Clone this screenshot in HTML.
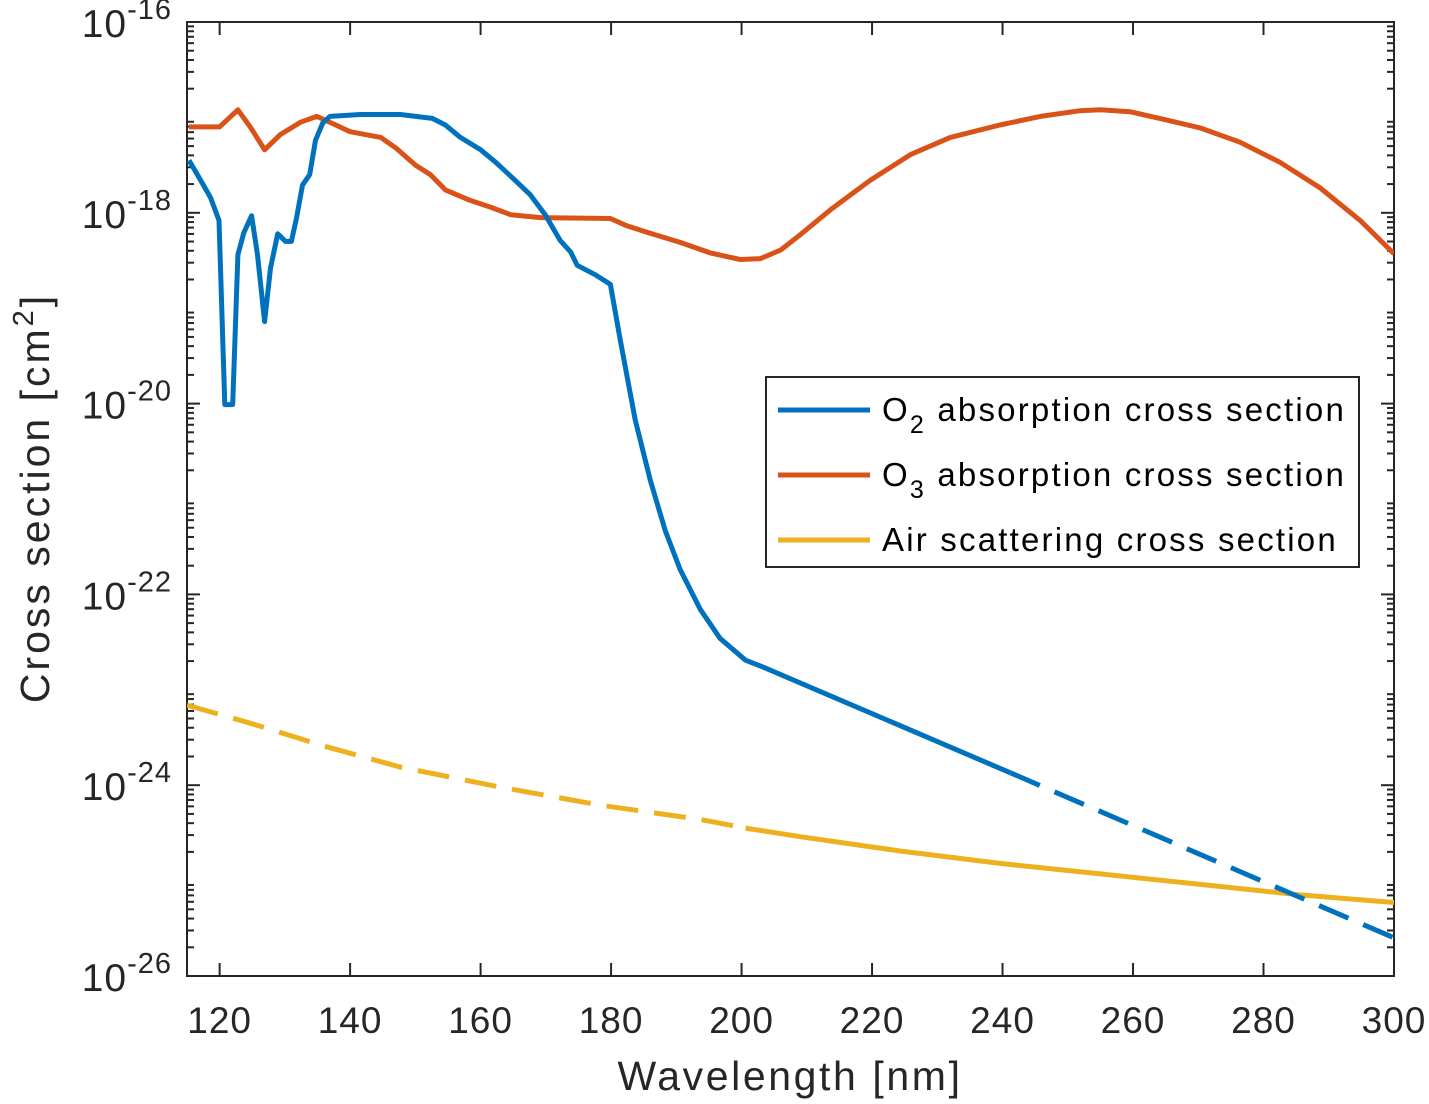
<!DOCTYPE html>
<html><head><meta charset="utf-8"><style>
body{margin:0;background:#fff}
svg{display:block;font-family:"Liberation Sans",Arial,sans-serif}
</style></head><body>
<svg id="chart" width="1429" height="1104"></svg>
<script>
const xTicks=[120,140,160,180,200,220,240,260,280,300];
const yTickExps=[-26,-24,-22,-20,-18,-16];
const o2Wl=[115.3,117.1,118.6,119.9,120.8,122,122.8,123.7,124.9,125.8,126.9,127.8,128.9,130.1,131,131.8,132.7,133.8,134.7,135.8,136.9,141.6,147.7,152.6,154.6,156.9,160,162.3,165.3,167.6,169.9,172.2,173.8,174.8,177.6,179.9,181.4,183.7,186,188.3,190.6,193.7,196.7,200.6,203.6,241.2];
const o2Log=[-17.45,-17.66,-17.84,-18.08,-20.01,-20.01,-18.44,-18.21,-18.03,-18.44,-19.14,-18.58,-18.22,-18.30,-18.30,-18.05,-17.71,-17.60,-17.24,-17.06,-16.99,-16.97,-16.97,-17.01,-17.08,-17.21,-17.34,-17.47,-17.66,-17.81,-18.02,-18.29,-18.41,-18.55,-18.65,-18.75,-19.33,-20.17,-20.80,-21.33,-21.74,-22.16,-22.46,-22.69,-22.77,-23.87];
const o2ExtWl=[241.2,300];
const o2ExtLog=[-23.87,-25.6];
const o3Wl=[115.3,120,122.8,124.8,126.9,129.3,132.4,134.9,137.8,140,144.7,147,150,152.3,154.6,158.4,161.5,164.6,169.2,179.9,182.2,185.3,190.6,195.2,199.8,202.9,206,209,213.6,219.7,225.9,232,239.6,245.8,251.9,255,259.5,264.1,270.3,276.4,282.5,288.7,294.8,300];
const o3Log=[-17.10,-17.10,-16.92,-17.11,-17.34,-17.18,-17.05,-16.99,-17.08,-17.15,-17.21,-17.32,-17.50,-17.60,-17.76,-17.87,-17.94,-18.02,-18.05,-18.06,-18.13,-18.20,-18.31,-18.42,-18.49,-18.48,-18.39,-18.23,-17.97,-17.66,-17.39,-17.21,-17.08,-16.99,-16.93,-16.92,-16.94,-17.01,-17.11,-17.26,-17.47,-17.74,-18.08,-18.43];
const airExtWl=[115,124.7,135.5,147.7,163,178.4,193.7,200.6];
const airExtLog=[-23.16,-23.35,-23.58,-23.81,-24.02,-24.21,-24.36,-24.45];
const airWl=[200.6,209,224.3,239.6,255,270.3,285.6,300];
const airLog=[-24.45,-24.54,-24.69,-24.82,-24.93,-25.04,-25.15,-25.23];

const L=187,R=1394,T=22,B=976,X0=115,X1=300,Y0=-26,Y1=-16;
const sx=v=>L+(v-X0)/(X1-X0)*(R-L);
const sy=v=>B-(v-Y0)/(Y1-Y0)*(B-T);
const NS='http://www.w3.org/2000/svg';
const svg=document.getElementById('chart');
function mk(tag,attrs,parent){const e=document.createElementNS(NS,tag);for(const k in attrs)e.setAttribute(k,attrs[k]);(parent||svg).appendChild(e);return e;}

const clip=mk('clipPath',{id:'pc'});mk('rect',{x:L,y:T,width:R-L,height:B-T},clip);
const axes=mk('g',{stroke:'#262626','stroke-width':2});


mk('rect',{x:L,y:T,width:R-L,height:B-T,fill:'none'},axes);

xTicks.forEach(t=>{
  const x=sx(t);
  mk('line',{x1:x,x2:x,y1:B,y2:B-13},axes);
  mk('line',{x1:x,x2:x,y1:T,y2:T+13},axes);
  const tx=mk('text',{x:x,y:1033,'text-anchor':'middle','font-size':37,fill:'#262626','letter-spacing':1});
  tx.textContent=t;
  
  
});
for(let d=Y0;d<Y1;d++){for(let m=2;m<=9;m++){const y=sy(d+Math.log10(m));
  mk('line',{x1:L,x2:L+7,y1:y,y2:y},axes);mk('line',{x1:R,x2:R-7,y1:y,y2:y},axes);}}
yTickExps.forEach(e=>{
  const y=sy(e);
  mk('line',{x1:L,x2:L+13,y1:y,y2:y},axes);
  mk('line',{x1:R,x2:R-13,y1:y,y2:y},axes);
  const tx=mk('text',{x:172,y:y+15,'text-anchor':'end','font-size':39,fill:'#262626','letter-spacing':1});
  tx.innerHTML='10<tspan dy="-18" font-size="29">'+e+'</tspan>';
  
  
});

function line(wl,lg,color,dash,name){
  const d=wl.map((w,i)=>(i?'L':'M')+sx(w).toFixed(1)+','+sy(lg[i]).toFixed(1)).join('');
  const p=mk('path',{d:d,fill:'none',stroke:color,'stroke-width':5,'stroke-linejoin':'round','clip-path':'url(#pc)'});
  if(dash)p.setAttribute('stroke-dasharray','32 16');
  
  
}
line(airExtWl,airExtLog,'#EDB120',true,'air-scattering-extrapolated');
line(airWl,airLog,'#EDB120',false,'air-scattering-line');
line(o3Wl,o3Log,'#D95319',false,'o3-absorption-line');
line(o2Wl,o2Log,'#0072BD',false,'o2-absorption-line');
line(o2ExtWl,o2ExtLog,'#0072BD',true,'o2-absorption-extrapolated');

const xt=mk('text',{x:790,y:1090,'text-anchor':'middle','font-size':41,fill:'#262626','letter-spacing':2.6});
xt.textContent='Wavelength [nm]';


const yt=mk('text',{x:0,y:0,'text-anchor':'middle','font-size':41,fill:'#262626','letter-spacing':3,transform:'translate(49,498) rotate(-90)'});
yt.innerHTML='Cross section [cm<tspan dy="-16" font-size="29">2</tspan><tspan dy="16">]</tspan>';



const lg=mk('g',{});


mk('rect',{x:766,y:377,width:593,height:190,fill:'#fff',stroke:'#262626','stroke-width':2},lg);
const items=[['#0072BD','O<tspan dy="12" font-size="25">2</tspan><tspan dy="-12"> absorption cross section</tspan>'],
['#D95319','O<tspan dy="12" font-size="25">3</tspan><tspan dy="-12"> absorption cross section</tspan>'],
['#EDB120','Air scattering cross section']];
items.forEach((it,i)=>{
  const y=410+i*65;
  mk('line',{x1:778,x2:870,y1:y,y2:y,stroke:it[0],'stroke-width':5},lg);
  const t=mk('text',{x:882,y:y+11,'font-size':33,fill:'#000','letter-spacing':2.2},lg);
  t.innerHTML=it[1];
  
  
});
</script>
</body></html>
